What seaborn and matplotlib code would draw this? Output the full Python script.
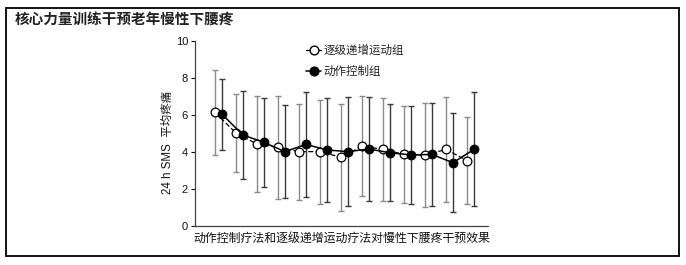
import numpy as np
import pandas as pd
import matplotlib
matplotlib.use("Agg")
import matplotlib.pyplot as plt
from matplotlib.lines import Line2D
from matplotlib.patches import Rectangle
import seaborn as sns

# ---- data ----
timepoints = list(range(1, 14))
graded_mean = [6.14, 5.01, 4.43, 4.25, 4.02, 4.02, 3.71, 4.32, 4.14, 3.87, 3.84, 4.14, 3.53]
graded_sd   = [2.30, 2.10, 2.60, 2.80, 2.60, 2.81, 2.91, 2.70, 2.77, 2.62, 2.82, 2.83, 2.36]
motor_mean  = [6.05, 4.92, 4.52, 4.02, 4.41, 4.11, 4.02, 4.16, 3.96, 3.84, 3.87, 3.42, 4.14]
motor_sd    = [1.92, 2.40, 2.41, 2.51, 2.82, 2.81, 2.93, 2.80, 2.61, 2.66, 2.79, 2.68, 3.08]
label_graded = "逐级递增运动组"
label_motor = "动作控制组"
title = "核心力量训练干预老年慢性下腰疼"
xlabel = "动作控制疗法和逐级递增运动疗法对慢性下腰疼干预效果"
ylabel = "24 h SMS  平均疼痛"
yticks = [0, 2, 4, 6, 8, 10]

sns.set_theme(style="white")
plt.rcParams['font.family'] = ['Liberation Sans', 'Noto Sans CJK SC', 'DejaVu Sans']
plt.rcParams['axes.unicode_minus'] = False

W, H = 686, 265
fig = plt.figure(figsize=(W / 100, H / 100), dpi=100)
fig.patch.set_facecolor('white')

def px_box(l, t, r, b):
    return [l / W, 1 - b / H, (r - l) / W, (b - t) / H]

ax = fig.add_axes(px_box(195, 41, 488, 226))
ax.set_facecolor('white')

off = 0.16
x_g = np.array(timepoints) - off
x_m = np.array(timepoints) + off

df_g = pd.DataFrame({"t": x_g, "v": graded_mean})
df_m = pd.DataFrame({"t": x_m, "v": motor_mean})

# error bars
ax.errorbar(x_g, graded_mean, yerr=graded_sd, fmt='none', ecolor='#8a8a8a',
            elinewidth=1.0, capsize=2.5, capthick=1.0, zorder=1)
ax.errorbar(x_m, motor_mean, yerr=motor_sd, fmt='none', ecolor='#3a3a3a',
            elinewidth=1.0, capsize=2.5, capthick=1.0, zorder=1)

sns.lineplot(data=df_g, x="t", y="v", ax=ax, color='black', linestyle=(0, (4, 2)),
             linewidth=0.9, marker='o', markersize=6.3, markerfacecolor='white',
             markeredgecolor='black', markeredgewidth=0.9, zorder=3, sort=False)
sns.lineplot(data=df_m, x="t", y="v", ax=ax, color='black', linestyle='-',
             linewidth=1.1, marker='o', markersize=6.3, markerfacecolor='black',
             markeredgecolor='black', zorder=4, sort=False)

ax.set_xlim(-0.12, 13.83)
ax.set_ylim(0, 10)
ax.set_yticks(yticks)
ax.set_xticks([])
ax.set_xlabel(xlabel, fontsize=8.6, family=['Noto Sans CJK SC'], labelpad=4, color='#111111')
ax.set_ylabel(ylabel, fontsize=8.3, color='#111111')
ax.yaxis.set_label_coords(-0.072, 0.454)
ax.tick_params(axis='y', direction='out', length=3, width=0.8, left=True,
               labelsize=8, pad=2, colors='#111111')
for s in ['top', 'right']:
    ax.spines[s].set_visible(False)
for s in ['left', 'bottom']:
    ax.spines[s].set_color('#444444')
    ax.spines[s].set_linewidth(0.9)

handles = [
    Line2D([], [], color='black', linewidth=0.9, marker='o', markersize=6.3,
           markerfacecolor='white', markeredgecolor='black'),
    Line2D([], [], color='black', linewidth=1.1, marker='o', markersize=6.3,
           markerfacecolor='black', markeredgecolor='black'),
]
leg = ax.legend(handles, [label_graded, label_motor], loc='upper left',
                bbox_to_anchor=(0.38, 0.985), frameon=False, handlelength=1.3,
                handletextpad=0.15, labelspacing=0.7, borderpad=0, borderaxespad=0,
                prop={'family': 'Noto Sans CJK SC', 'size': 8.3})
for t in leg.get_texts():
    t.set_color('#222222')

# outer frame and title
fig.add_artist(Rectangle((6 / W, 1 - 256 / H), (679 - 6) / W, (256 - 8) / H,
                         transform=fig.transFigure, fill=False, edgecolor='black',
                         linewidth=1.3))
fig.text(15 / W, 1 - 19 / H, title, fontsize=10.5, fontweight='bold',
         family=['Noto Sans CJK SC'], va='center', ha='left', color='#222222')

fig.savefig("out.png", dpi=100, facecolor='white')
